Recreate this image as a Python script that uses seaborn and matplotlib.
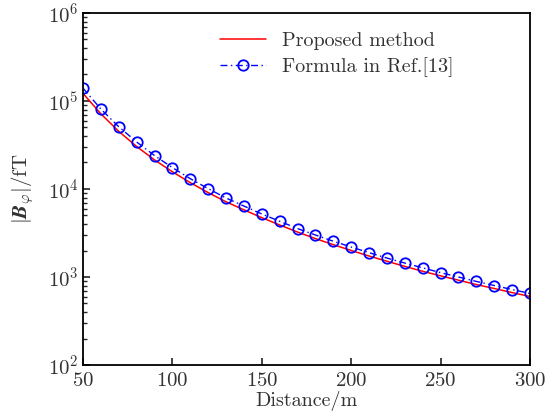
import matplotlib
matplotlib.use("Agg")
import matplotlib.pyplot as plt
import seaborn as sns
import pandas as pd
from matplotlib.ticker import LogLocator, NullFormatter, FixedLocator

distance = [50, 60, 70, 80, 90, 100, 110, 120, 130, 140, 150, 160, 170,
            180, 190, 200, 210, 220, 230, 240, 250, 260, 270, 280, 290, 300]
proposed = [1.22e5, 7.15e4, 4.52e4, 3.04e4, 2.14e4, 1.57e4, 1.18e4, 9.1e3,
            7.15e3, 5.8e3, 4.72e3, 3.9e3, 3.24e3, 2.73e3, 2.33e3, 2.0e3,
            1.73e3, 1.51e3, 1.32e3, 1.16e3, 1.03e3, 9.2e2, 8.2e2, 7.4e2,
            6.65e2, 6.0e2]
formula = [1.40e5, 8.1e4, 5.1e4, 3.42e4, 2.40e4, 1.75e4, 1.31e4, 1.01e4,
           7.9e3, 6.4e3, 5.2e3, 4.3e3, 3.55e3, 3.0e3, 2.55e3, 2.19e3, 1.89e3,
           1.64e3, 1.44e3, 1.27e3, 1.12e3, 1.0e3, 8.9e2, 8.0e2, 7.2e2, 6.5e2]
xticks = [50, 100, 150, 200, 250, 300]

sns.set_style("ticks")
plt.rcParams.update({
    "font.family": ["serif"],
    "font.serif": ["cmr10", "DejaVu Serif"],
    "mathtext.fontset": "cm",
    "axes.formatter.use_mathtext": True,
    "axes.unicode_minus": False,
})

df = pd.DataFrame({"Distance": distance, "Proposed": proposed, "Formula": formula})

fig = plt.figure(figsize=(5.55, 4.16), dpi=100)
ax = fig.add_axes([0.1495, 0.1226, 0.8055, 0.8462])

sns.lineplot(data=df, x="Distance", y="Proposed", ax=ax, color="#ff0000",
             linewidth=1.1, label="Proposed method")
sns.lineplot(data=df, x="Distance", y="Formula", ax=ax, color="#0000ff",
             linewidth=1.0, linestyle=(0, (5, 2.5, 1, 2.5)), marker="o",
             markersize=7.5, markerfacecolor="none", markeredgecolor="#0000ff",
             markeredgewidth=1.3, label="Formula in Ref.[13]")

ax.set_yscale("log")
ax.set_xlim(50, 300)
ax.set_ylim(1e2, 1e6)
ax.xaxis.set_major_locator(FixedLocator(xticks))
ax.yaxis.set_major_locator(LogLocator(base=10, numticks=10))
ax.yaxis.set_minor_locator(LogLocator(base=10, subs=range(2, 10), numticks=10))
ax.yaxis.set_minor_formatter(NullFormatter())
ax.tick_params(axis="both", which="major", direction="in", length=5, width=1.2,
               labelsize=15, colors="#222222", labelcolor="#333333", pad=3)
ax.tick_params(axis="x", which="major", pad=5)
ax.tick_params(axis="y", which="minor", direction="in", length=3, width=1.0)
ax.tick_params(axis="x", which="minor", bottom=False)
for s in ax.spines.values():
    s.set_visible(True)
    s.set_linewidth(1.3)
    s.set_color("black")

ax.set_xlabel("Distance/m", fontsize=14.5, color="#333333", labelpad=1)
ax.set_ylabel(r"$|\boldsymbol{B}_{\varphi}|/\mathrm{fT}$", fontsize=15,
              color="#333333", labelpad=9)

leg = ax.legend(loc="upper left", bbox_to_anchor=(0.265, 0.997), frameon=False,
                fontsize=14.5, handlelength=2.3, handletextpad=0.8,
                labelspacing=0.35)
for t in leg.get_texts():
    t.set_color("#333333")

fig.savefig("out.png", dpi=100)
